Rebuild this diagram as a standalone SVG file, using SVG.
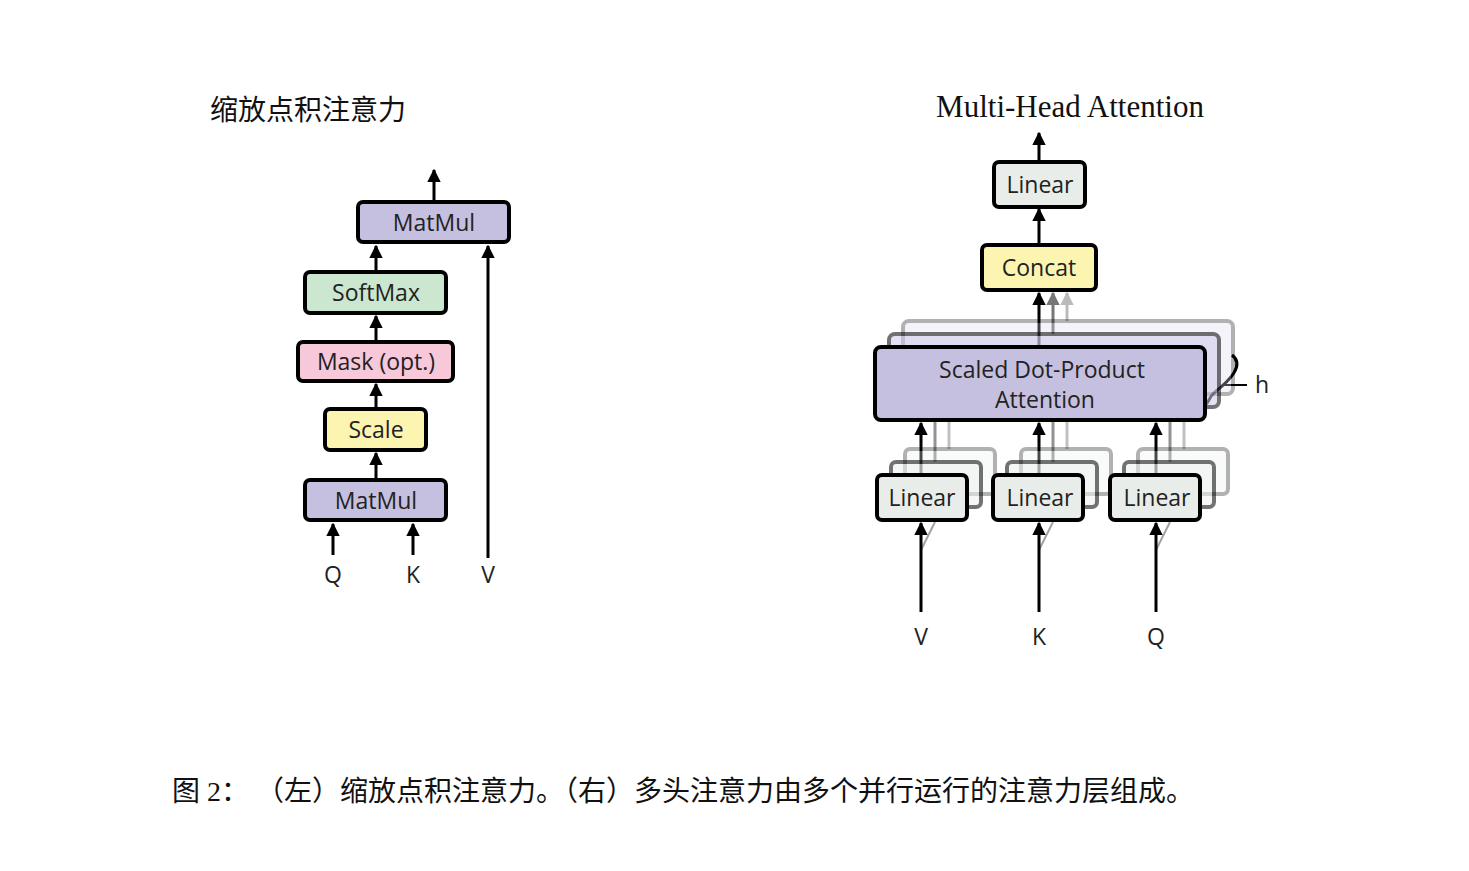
<svg xmlns="http://www.w3.org/2000/svg" width="1469" height="871" viewBox="0 0 1469 871">
<defs>
<marker id="ah" viewBox="0 0 10 10" refX="9" refY="5" markerWidth="4.5" markerHeight="4.5" orient="auto"><path d="M0,0L10,5L0,10z" fill="#000"/></marker>
<marker id="ahg" viewBox="0 0 10 10" refX="9" refY="5" markerWidth="4.5" markerHeight="4.5" orient="auto"><path d="M0,0L10,5L0,10z" fill="#777"/></marker>
<marker id="ahl" viewBox="0 0 10 10" refX="9" refY="5" markerWidth="4.5" markerHeight="4.5" orient="auto"><path d="M0,0L10,5L0,10z" fill="#bbb"/></marker>
</defs>
<style>
.b{stroke:#000;stroke-width:4}
.t{font-family:"Open Sans","Liberation Sans",sans-serif;font-size:23px;text-anchor:middle;fill:#222}
.a{stroke:#000;stroke-width:3;fill:none;marker-end:url(#ah)}
.ser{font-family:"Liberation Serif","Noto Sans CJK SC",serif;fill:#111}
.s1{opacity:0.55}.s2{opacity:0.3}
</style>
<rect width="1469" height="871" fill="#fff"/>
<text class="ser" x="210" y="120" font-size="28">缩放点积注意力</text>
<text class="ser" x="1070" y="117" font-size="31" text-anchor="middle">Multi-Head Attention</text>
<text class="ser" x="172" y="801" font-size="28">图 2： （左）缩放点积注意力。（右）多头注意力由多个并行运行的注意力层组成。</text>
<g id="connectors">
<path class="a" d="M434,202V170"/>
<path class="a" d="M376,272V246"/>
<path class="a" d="M376,342V316"/>
<path class="a" d="M376,409V384"/>
<path class="a" d="M376,480V453"/>
<path class="a" d="M488,558V246"/>
<path class="a" d="M333,555V524"/>
<path class="a" d="M413,555V524"/>
<path class="a" d="M1039,162V133"/>
<path class="a" d="M1039,245V209"/>
<path d="M1067,321V293" stroke="#bbb" stroke-width="3" marker-end="url(#ahl)"/>
<path d="M1053,334V293" stroke="#777" stroke-width="3" marker-end="url(#ahg)"/>
<path class="a" d="M1039,347V293"/>
<g stroke="#999" stroke-width="3" opacity="0.6"><path d="M949,449V421M1067,449V421M1184,449V421"/></g>
<g stroke="#666" stroke-width="3" opacity="0.7"><path d="M935,462V421M1053,462V421M1170,462V421"/></g>
<path class="a" d="M921,475V423"/>
<path class="a" d="M1039,475V423"/>
<path class="a" d="M1156,475V423"/>
<g stroke="#666" stroke-width="2" opacity="0.6"><path d="M921,550L935,522M1039,550L1053,522M1156,550L1170,522"/></g>
<path class="a" d="M921,612V523"/>
<path class="a" d="M1039,612V523"/>
<path class="a" d="M1156,612V523"/>
<path d="M1232,355C1245,365 1230,380 1215,392C1205,400 1212,408 1195,404" stroke="#000" stroke-width="3" fill="none"/>
<path d="M1222,385H1247" stroke="#000" stroke-width="2"/>
</g>
<g id="matmul2"><rect class="b" x="358" y="202" width="151" height="40" rx="5" fill="#c5bfe0"/><text class="t" x="434" y="231">MatMul</text></g>
<g id="softmax"><rect class="b" x="305" y="272" width="141" height="41" rx="5" fill="#cbe7cf"/><text class="t" x="376" y="301">SoftMax</text></g>
<g id="mask"><rect class="b" x="298" y="342" width="155" height="39" rx="5" fill="#f7c7da"/><text class="t" x="376" y="370">Mask (opt.)</text></g>
<g id="scale"><rect class="b" x="325" y="409" width="101" height="41" rx="5" fill="#fcf5b2"/><text class="t" x="376" y="438">Scale</text></g>
<g id="matmul1"><rect class="b" x="305" y="480" width="141" height="40" rx="5" fill="#c5bfe0"/><text class="t" x="376" y="509">MatMul</text></g>
<g class="t" id="qkv-left"><text class="t" x="333" y="583" font-size="25">Q</text><text class="t" x="413" y="583" font-size="25">K</text><text class="t" x="488" y="583" font-size="25">V</text></g>
<g id="linear-top"><rect class="b" x="994" y="162" width="91" height="45" rx="5" fill="#e8ede9"/><text class="t" x="1040" y="193">Linear</text></g>
<g id="concat"><rect class="b" x="982" y="245" width="114" height="45" rx="5" fill="#fcf5b2"/><text class="t" x="1039" y="276">Concat</text></g>
<g id="sdpa">
<rect class="b s2" x="903" y="321" width="330" height="73" rx="6" fill="#ddd9ef"/>
<rect class="b s1" x="889" y="334" width="330" height="73" rx="6" fill="#cfc9e8"/>
<rect class="b" x="875" y="347" width="330" height="73" rx="6" fill="#c5bfe0"/>
<text class="t" x="1042" y="378">Scaled Dot-Product</text><text class="t" x="1045" y="408">Attention</text>
</g>
<g id="linears">
<g class="s2"><rect class="b" x="905" y="449" width="90" height="45" rx="5" fill="#eef1ef"/><rect class="b" x="1021" y="449" width="90" height="45" rx="5" fill="#eef1ef"/><rect class="b" x="1138" y="449" width="90" height="45" rx="5" fill="#eef1ef"/></g>
<g class="s1"><rect class="b" x="891" y="462" width="90" height="45" rx="5" fill="#eef1ef"/><rect class="b" x="1007" y="462" width="90" height="45" rx="5" fill="#eef1ef"/><rect class="b" x="1124" y="462" width="90" height="45" rx="5" fill="#eef1ef"/></g>
<rect class="b" x="877" y="475" width="90" height="45" rx="5" fill="#e8ede9"/><text class="t" x="922" y="506">Linear</text>
<rect class="b" x="993" y="475" width="90" height="45" rx="5" fill="#e8ede9"/><text class="t" x="1040" y="506">Linear</text>
<rect class="b" x="1110" y="475" width="90" height="45" rx="5" fill="#e8ede9"/><text class="t" x="1157" y="506">Linear</text>
</g>
<g id="qkv-right"><text class="t" x="921" y="645" font-size="25">V</text><text class="t" x="1039" y="645" font-size="25">K</text><text class="t" x="1156" y="645" font-size="25">Q</text><text class="t" x="1262" y="393" font-size="23">h</text></g>
</svg>
